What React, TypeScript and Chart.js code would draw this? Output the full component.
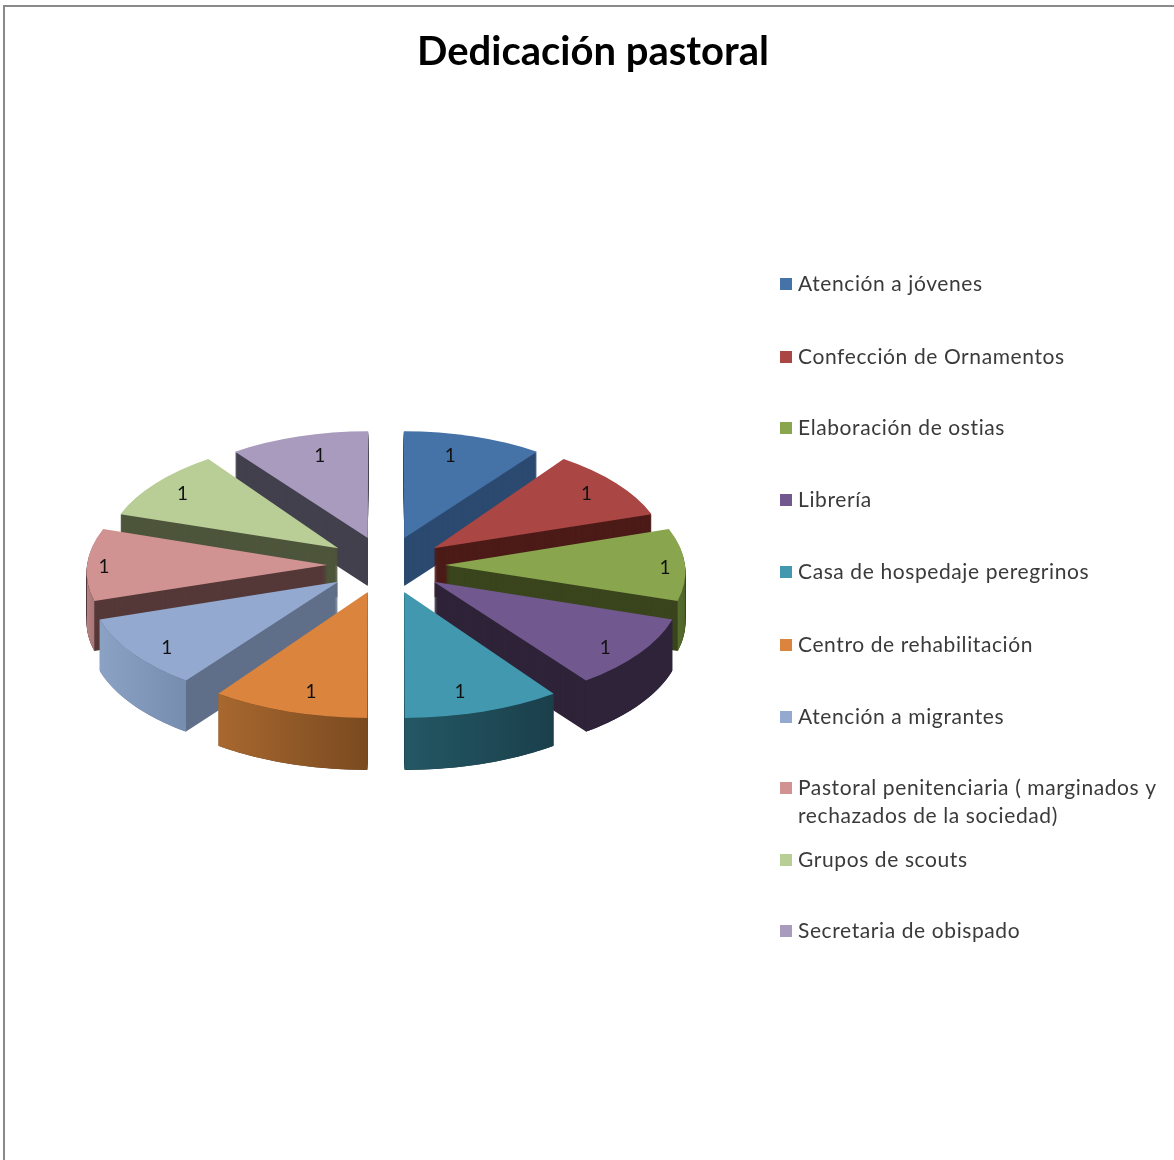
import React, { useEffect, useRef } from "react";
import { Chart, registerables } from "chart.js";

Chart.register(...registerables);

const title = "Dedicación pastoral";
const categories: (string | string[])[] = [
  "Atención a jóvenes",
  "Confección de Ornamentos",
  "Elaboración de ostias",
  "Librería",
  "Casa de hospedaje peregrinos",
  "Centro de rehabilitación",
  "Atención a migrantes",
  ["Pastoral penitenciaria ( marginados y", "rechazados de la sociedad)"],
  "Grupos de scouts",
  "Secretaria de obispado",
];
const values = [1, 1, 1, 1, 1, 1, 1, 1, 1, 1];
const topColors = ["#4572A7", "#AA4643", "#89A54E", "#71588F", "#4198AF", "#DB843D", "#93A9CF", "#D19392", "#B9CD96", "#A99BBD"];
const sideColors = ["#2c4a70", "#4c1b18", "#3a451d", "#2e2338", "#1a3f4b", "#6f4420", "#606f89", "#553838", "#4d553b", "#43404e"];
const wallLeft = ["#2c4a70", "#4c1b18", "#576e2f", "#2e2338", "#235864", "#a8682f", "#8ca2c4", "#b58282", "#4d553b", "#43404e"];
const wallRight = ["#2c4a70", "#4c1b18", "#4d6329", "#2e2338", "#1a3f4b", "#7a4a20", "#778daf", "#a87676", "#4d553b", "#43404e"];

const FONT = "Lato, Carlito, sans-serif";
const CX = 386;
const CY = 565;
const VISIBLE_R = 240;
const EXPLODE = 59;
const legendY = [284, 357, 428, 500, 572, 645, 717, 788, 860, 931];
const labelNudge = [[-2, 2], [-7, 0], [0, 3], [0, 6], [2, 0], [-3, 0], [0, 6], [-3, 2], [4, 0], [0, 2]];

function persp(mid: number) {
  const c = Math.sin(mid); // +1 front, -1 back
  return { kx: 1 + 0.06 * c, ky: 0.485 + 0.042 * c, shear: 0.06 * Math.pow(Math.cos(mid), 3), depth: 50 + 2 * c };
}

const pie3d = {
  id: "pie3d",
  beforeDatasetDraw(chart: any, args: any) {
    const ctx = chart.ctx as CanvasRenderingContext2D;
    const arcs = args.meta.data as any[];
    const items = arcs.map((arc, i) => {
      const p = arc.getProps(["x", "y", "startAngle", "endAngle", "outerRadius"], true);
      const mid = (p.startAngle + p.endAngle) / 2;
      const { kx, ky, shear, depth } = persp(mid);
      const ax = CX + EXPLODE * Math.cos(mid);
      const ay = CY + EXPLODE * Math.sin(mid) * 0.48;
      return { arc, i, p, mid, kx, ky, shear, depth, ax, ay };
    });
    const sorted = [...items].sort((a, b) => Math.sin(a.mid) - Math.sin(b.mid));
    for (const s of sorted) {
      const a0 = s.p.startAngle;
      const a1 = s.p.endAngle;
      const R = s.p.outerRadius;
      const sx = (a: number) => s.ax + R * (s.kx * Math.cos(a) + s.shear * Math.sin(a));
      const sy = (a: number, d: number) => s.ay + d + s.ky * R * Math.sin(a);
      const N = 32;
      ctx.fillStyle = sideColors[s.i];
      for (let d = Math.round(s.depth); d >= 1; d--) {
        ctx.beginPath();
        ctx.moveTo(s.ax, s.ay + d);
        for (let n = 0; n <= N; n++) {
          const a = a0 + ((a1 - a0) * n) / N;
          ctx.lineTo(sx(a), sy(a, d));
        }
        ctx.closePath();
        ctx.fill();
      }
      for (const k of [-2, 0, 2]) {
        const lo = Math.max(a0, k * Math.PI);
        const hi = Math.min(a1, k * Math.PI + Math.PI);
        if (hi <= lo) continue;
        const xa = sx(hi);
        const xb = sx(lo);
        const g = ctx.createLinearGradient(Math.min(xa, xb), 0, Math.max(xa, xb), 0);
        g.addColorStop(0, wallLeft[s.i]);
        g.addColorStop(1, wallRight[s.i]);
        ctx.fillStyle = g;
        ctx.beginPath();
        for (let n = 0; n <= N; n++) {
          const a = lo + ((hi - lo) * n) / N;
          ctx.lineTo(sx(a), sy(a, 0));
        }
        for (let n = N; n >= 0; n--) {
          const a = lo + ((hi - lo) * n) / N;
          ctx.lineTo(sx(a), sy(a, s.depth));
        }
        ctx.closePath();
        ctx.fill();
      }
    }
    for (const s of items) {
      ctx.save();
      ctx.transform(s.kx, 0, s.shear, s.ky, s.ax - s.kx * s.p.x - s.shear * s.p.y, s.ay - s.ky * s.p.y);
      s.arc.draw(ctx);
      ctx.restore();
    }
    ctx.fillStyle = "#111";
    ctx.font = `19px ${FONT}`;
    ctx.textAlign = "center";
    ctx.textBaseline = "middle";
    for (const s of items) {
      const ux = Math.cos(s.mid);
      const uy = Math.sin(s.mid);
      const rx = 140 + 80 * Math.abs(ux);
      const [nx, ny] = labelNudge[s.i];
      ctx.fillText(String(values[s.i]), s.ax + s.kx * rx * ux + nx, s.ay + s.ky * 200 * uy + ny);
    }
    return false;
  },
  afterDraw(chart: any) {
    const ctx = chart.ctx as CanvasRenderingContext2D;
    const colors = chart.data.datasets[0].backgroundColor as string[];
    ctx.save();
    ctx.font = `21px ${FONT}`;
    ctx.textAlign = "left";
    ctx.textBaseline = "middle";
    (ctx as any).letterSpacing = "0.6px";
    (chart.data.labels as (string | string[])[]).forEach((label, i) => {
      const y = legendY[i];
      ctx.fillStyle = colors[i];
      ctx.fillRect(780, y - 6, 12, 12);
      ctx.fillStyle = "#3a3a3a";
      const lines = Array.isArray(label) ? label : [label];
      lines.forEach((line, j) => ctx.fillText(line, 798, y + j * 28));
    });
    ctx.restore();
  },
};

export default function App() {
  const ref = useRef<HTMLCanvasElement>(null);
  useEffect(() => {
    const chart = new Chart(ref.current!, {
      type: "pie",
      data: {
        labels: categories as any,
        datasets: [
          {
            data: values,
            backgroundColor: topColors,
            borderWidth: 0,
          } as any,
        ],
      },
      options: {
        responsive: false,
        animation: false,
        devicePixelRatio: 1,
        radius: VISIBLE_R,
        plugins: {
          legend: { display: false },
          tooltip: { enabled: false },
          title: {
            display: true,
            text: title,
            color: "#000",
            font: { family: FONT, size: 40, weight: "bold" },
            padding: { top: 28, bottom: 10 },
          },
        },
      } as any,
      plugins: [pie3d as any],
    });
    return () => chart.destroy();
  }, []);
  return (
    <div style={{ position: "fixed", left: 0, top: 0, width: 1174, height: 1160, overflow: "hidden", background: "#fff" }}>
      <canvas ref={ref} width={1186} height={1160} style={{ display: "block" }} />
      <div style={{ position: "absolute", left: 3, top: 5, right: -10, bottom: -10, borderLeft: "2px solid #8a8a8a", borderTop: "2px solid #8a8a8a" }} />
    </div>
  );
}
